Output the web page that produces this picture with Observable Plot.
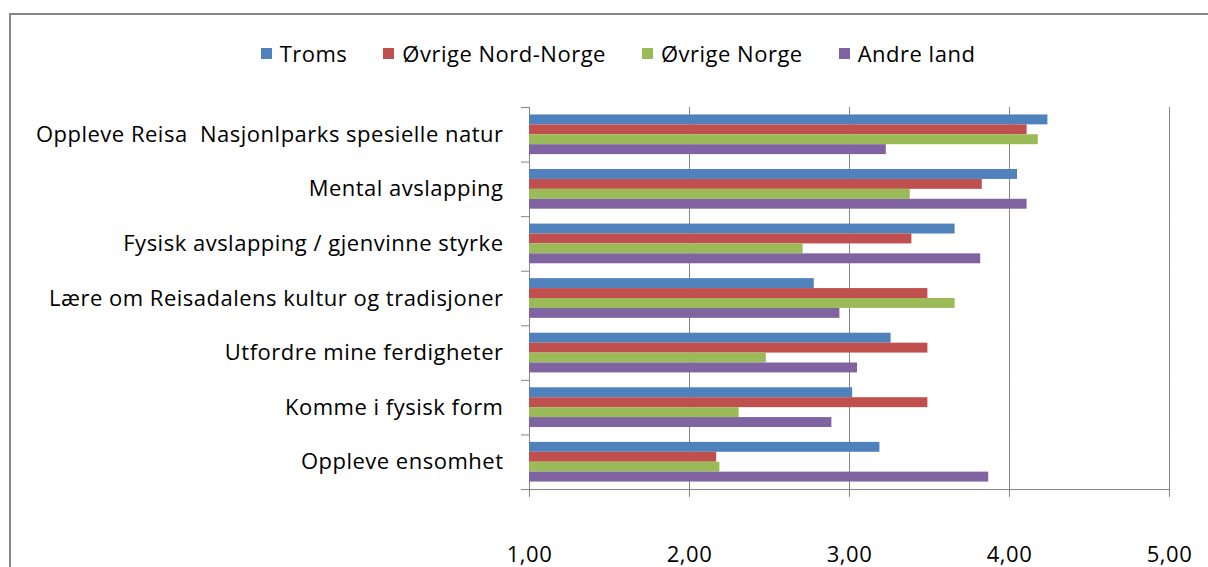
<!DOCTYPE html>
<html><head><meta charset="utf-8">
<script src="https://cdn.jsdelivr.net/npm/d3@7"></script>
<script src="https://cdn.jsdelivr.net/npm/@observablehq/plot@0.6"></script>
<style>
html,body{margin:0;padding:0;background:#fff;overflow:hidden;width:1208px;height:567px;}
body{font-family:"Open Sans","Liberation Sans",sans-serif;position:relative;}
#frame{position:absolute;left:9px;top:13px;width:1400px;height:800px;border-top:2px solid #868686;border-left:2px solid #868686;}
#legend{position:absolute;left:0;top:39px;width:1236px;display:flex;justify-content:center;gap:36px;font-size:22px;letter-spacing:0.5px;color:#000;line-height:28px;}
.item{display:flex;align-items:center;gap:8px;}
.sw{width:11px;height:11px;display:inline-block;}
#chart{position:absolute;left:0;top:80px;}
#chart svg text{letter-spacing:0.5px;}
</style>
</head><body>
<div id="frame"></div>
<div id="legend"></div>
<div id="chart"></div>
<script>
const categories = [
  "Oppleve Reisa  Nasjonlparks spesielle natur",
  "Mental avslapping",
  "Fysisk avslapping / gjenvinne styrke",
  "Lære om Reisadalens kultur og tradisjoner",
  "Utfordre mine ferdigheter",
  "Komme i fysisk form",
  "Oppleve ensomhet"
];
const series = ["Troms", "Øvrige Nord-Norge", "Øvrige Norge", "Andre land"];
const troms           = [4.24, 4.05, 3.66, 2.78, 3.26, 3.02, 3.19];
const ovrigeNordNorge = [4.11, 3.83, 3.39, 3.49, 3.49, 3.49, 2.17];
const ovrigeNorge     = [4.18, 3.38, 2.71, 3.66, 2.48, 2.31, 2.19];
const andreLand       = [3.23, 4.11, 3.82, 2.94, 3.05, 2.89, 3.87];
const xTicks = [1, 2, 3, 4, 5];
const colors = ["#4F81BD", "#C0504D", "#9BBB59", "#8064A2"];

const seriesValues = [troms, ovrigeNordNorge, ovrigeNorge, andreLand];
const data = categories.flatMap((c, i) =>
  seriesValues.map((arr, j) => ({category: c, series: series[j], value: arr[i]})));

const legend = document.getElementById("legend");
series.forEach((s, j) => {
  const it = document.createElement("div");
  it.className = "item";
  const sw = document.createElement("span");
  sw.className = "sw";
  sw.style.background = colors[j];
  const t = document.createElement("span");
  t.textContent = s;
  it.appendChild(sw); it.appendChild(t);
  legend.appendChild(it);
});

const fmt = d => d.toFixed(2).replace(".", ",");
const grey = "#868686";

const chart = Plot.plot({
  width: 1208,
  height: 487,
  marginLeft: 529,
  marginRight: 39,
  marginTop: 27,
  marginBottom: 78,
  style: {fontFamily: "'Open Sans', 'Liberation Sans', sans-serif", fontSize: "22px", color: "#000", background: "transparent", overflow: "visible"},
  x: {domain: [xTicks[0], xTicks[xTicks.length - 1]], axis: null},
  y: {domain: series, axis: null, paddingInner: 0, paddingOuter: 0.75, round: false},
  fy: {domain: categories, padding: 0, axis: null, round: false},
  color: {domain: series, range: colors},
  marks: [
    Plot.gridX(xTicks.slice(1), {stroke: grey, strokeOpacity: 1}),
    Plot.ruleX([xTicks[0]], {stroke: grey}),
    Plot.frame({anchor: "top", stroke: grey, insetLeft: -8, insetRight: 640}),
    Plot.frame({anchor: "bottom", stroke: grey, insetLeft: -8, facet: "super"}),
    Plot.barX(data, {x1: xTicks[0], x2: "value", y: "series", fy: "category", fill: "series"}),
    Plot.axisX({ticks: xTicks, tickSize: 8, tickPadding: 49, tickFormat: fmt, stroke: grey, fill: "#000", label: null}),
    Plot.axisFy({anchor: "left", tickSize: 0, tickPadding: 26, fill: "#000", label: null})
  ]
});
document.getElementById("chart").appendChild(chart);
</script>
</body></html>
